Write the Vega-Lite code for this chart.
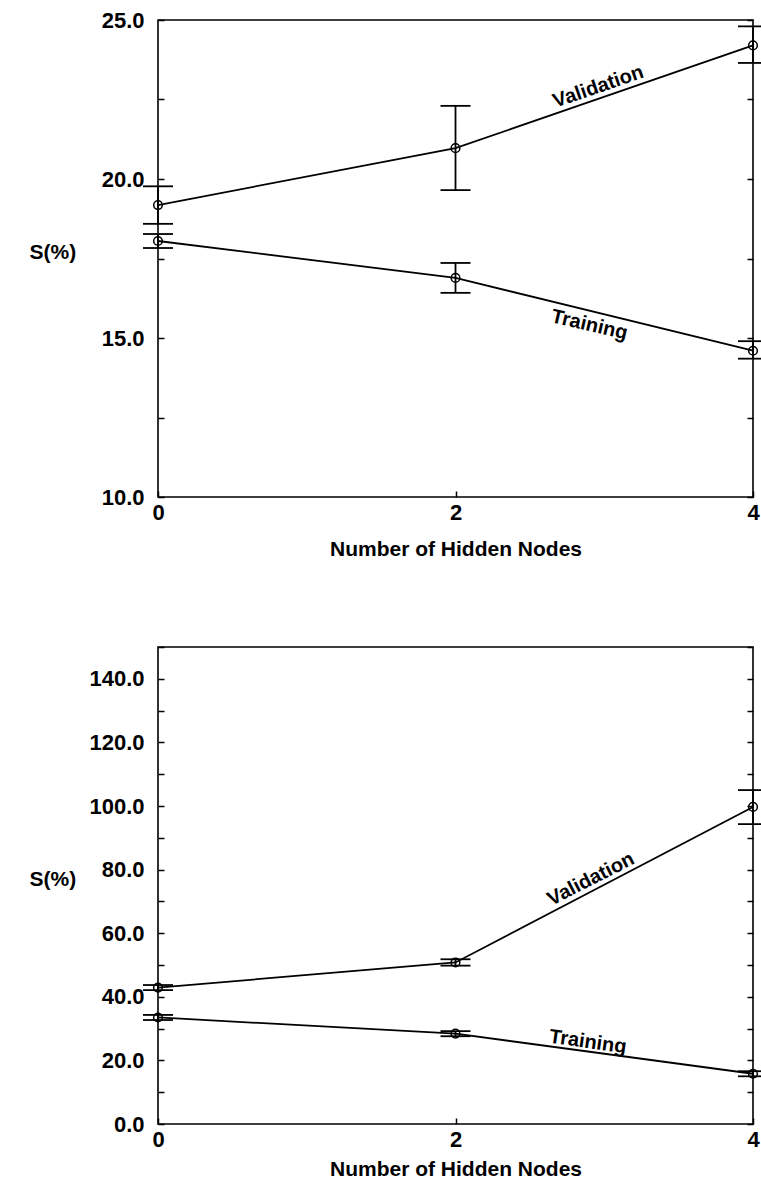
{
  "$schema": "https://vega.github.io/schema/vega-lite/v6.json",
  "padding": {"left": 28, "top": 8, "right": 0, "bottom": 0},
  "config": {
    "font": "Liberation Sans",
    "view": {"stroke": "black", "strokeWidth": 1.6},
    "axis": {
      "labelFont": "Liberation Sans", "labelFontWeight": "bold", "labelFontSize": 22, "labelColor": "black",
      "titleFont": "Liberation Sans", "titleFontWeight": "bold", "titleFontSize": 21, "titleColor": "black",
      "grid": false, "domain": false, "tickColor": "black", "tickSize": -6, "tickWidth": 1.5
    }
  },
  "datasets": {
    "pts": [
      {"panel": "A", "series": "Validation", "nodes": 0, "S": 19.18, "lo": 18.59, "hi": 19.77},
      {"panel": "A", "series": "Validation", "nodes": 2, "S": 20.97, "lo": 19.65, "hi": 22.3},
      {"panel": "A", "series": "Validation", "nodes": 4, "S": 24.2, "lo": 23.65, "hi": 24.8},
      {"panel": "A", "series": "Training", "nodes": 0, "S": 18.05, "lo": 17.83, "hi": 18.27},
      {"panel": "A", "series": "Training", "nodes": 2, "S": 16.89, "lo": 16.42, "hi": 17.36},
      {"panel": "A", "series": "Training", "nodes": 4, "S": 14.6, "lo": 14.35, "hi": 14.9},
      {"panel": "B", "series": "Validation", "nodes": 0, "S": 42.9, "lo": 42.1, "hi": 43.7},
      {"panel": "B", "series": "Validation", "nodes": 2, "S": 50.8, "lo": 49.8, "hi": 51.8},
      {"panel": "B", "series": "Validation", "nodes": 4, "S": 99.7, "lo": 94.3, "hi": 105.0},
      {"panel": "B", "series": "Training", "nodes": 0, "S": 33.5, "lo": 32.7, "hi": 34.3},
      {"panel": "B", "series": "Training", "nodes": 2, "S": 28.4, "lo": 27.6, "hi": 29.2},
      {"panel": "B", "series": "Training", "nodes": 4, "S": 15.8, "lo": 15.0, "hi": 16.6}
    ],
    "labels": [
      {"panel": "A", "label": "Validation", "nodes": 2.96, "S": 22.9},
      {"panel": "A", "label": "Training", "nodes": 2.9, "S": 15.41},
      {"panel": "B", "label": "Validation", "nodes": 2.91, "S": 77.0},
      {"panel": "B", "label": "Training", "nodes": 2.89, "S": 25.8}
    ]
  },
  "spacing": 150,
  "bounds": "flush",
  "vconcat": [
    {
      "width": 595, "height": 477,
      "encoding": {
        "x": {"field": "nodes", "type": "quantitative",
          "scale": {"domain": [0, 4], "nice": false, "zero": false},
          "axis": {"values": [0, 2, 4], "format": "d", "labelFlush": false, "title": "Number of Hidden Nodes", "labelPadding": 11, "titlePadding": 15}}
      },
      "layer": [
        {"data": {"name": "pts"}, "transform": [{"filter": "datum.panel == 'A'"}],
          "mark": {"type": "line", "color": "black", "strokeWidth": 1.8},
          "encoding": {
            "y": {"field": "S", "type": "quantitative", "scale": {"domain": [10, 25], "nice": false, "zero": false},
              "axis": {"orient": "left", "values": [10, 12.5, 15, 17.5, 20, 22.5, 25],
                "labelExpr": "datum.value % 5 === 0 ? format(datum.value, '.1f') : ''",
                "labelPadding": 20, "title": "S(%)", "titleAngle": 0, "titleAlign": "left", "titleBaseline": "middle", "titleX": -129, "titleY": 232}},
            "detail": {"field": "series"}}},
        {"data": {"name": "pts"}, "transform": [{"filter": "datum.panel == 'A'"}],
          "mark": {"type": "rule", "color": "black", "strokeWidth": 1.8},
          "encoding": {
            "y": {"field": "lo", "type": "quantitative", "scale": {"domain": [10, 25], "nice": false, "zero": false},
              "axis": {"orient": "right", "values": [10, 12.5, 15, 17.5, 20, 22.5, 25], "labels": false, "title": null}},
            "y2": {"field": "hi"}}},
        {"data": {"name": "pts"}, "transform": [{"filter": "datum.panel == 'A'"}],
          "mark": {"type": "point", "shape": "M-1,0L1,0", "size": 900, "filled": false, "color": "black", "strokeWidth": 1.8, "opacity": 1},
          "encoding": {"y": {"field": "lo", "type": "quantitative", "axis": null}}},
        {"data": {"name": "pts"}, "transform": [{"filter": "datum.panel == 'A'"}],
          "mark": {"type": "point", "shape": "M-1,0L1,0", "size": 900, "filled": false, "color": "black", "strokeWidth": 1.8, "opacity": 1},
          "encoding": {"y": {"field": "hi", "type": "quantitative", "axis": null}}},
        {"data": {"name": "pts"}, "transform": [{"filter": "datum.panel == 'A'"}],
          "mark": {"type": "point", "shape": "circle", "size": 75, "filled": false, "color": "black", "strokeWidth": 1.5, "opacity": 1},
          "encoding": {"y": {"field": "S", "type": "quantitative", "axis": null}}},
        {"data": {"name": "labels"}, "transform": [{"filter": "datum.panel == 'A' && datum.label == 'Validation'"}],
          "mark": {"type": "text", "font": "Liberation Sans", "fontWeight": "bold", "fontSize": 20, "angle": -19, "align": "center", "baseline": "middle", "color": "black"},
          "encoding": {"y": {"field": "S", "type": "quantitative", "axis": null}, "text": {"field": "label"}}},
        {"data": {"name": "labels"}, "transform": [{"filter": "datum.panel == 'A' && datum.label == 'Training'"}],
          "mark": {"type": "text", "font": "Liberation Sans", "fontWeight": "bold", "fontSize": 20, "angle": 13, "align": "center", "baseline": "middle", "color": "black"},
          "encoding": {"y": {"field": "S", "type": "quantitative", "axis": null}, "text": {"field": "label"}}}
      ],
      "resolve": {"axis": {"y": "independent"}}
    },
    {
      "width": 595, "height": 477,
      "encoding": {
        "x": {"field": "nodes", "type": "quantitative",
          "scale": {"domain": [0, 4], "nice": false, "zero": false},
          "axis": {"values": [0, 2, 4], "format": "d", "labelFlush": false, "title": "Number of Hidden Nodes", "labelPadding": 11, "titlePadding": 8}}
      },
      "layer": [
        {"data": {"name": "pts"}, "transform": [{"filter": "datum.panel == 'B'"}],
          "mark": {"type": "line", "color": "black", "strokeWidth": 1.8},
          "encoding": {
            "y": {"field": "S", "type": "quantitative", "scale": {"domain": [0, 150], "nice": false, "zero": false},
              "axis": {"orient": "left", "values": [0, 10, 20, 30, 40, 50, 60, 70, 80, 90, 100, 110, 120, 130, 140, 150],
                "labelExpr": "datum.value % 20 === 0 && datum.value < 150 ? format(datum.value, '.1f') : ''",
                "labelPadding": 20, "title": "S(%)", "titleAngle": 0, "titleAlign": "left", "titleBaseline": "middle", "titleX": -129, "titleY": 232}},
            "detail": {"field": "series"}}},
        {"data": {"name": "pts"}, "transform": [{"filter": "datum.panel == 'B'"}],
          "mark": {"type": "rule", "color": "black", "strokeWidth": 1.8},
          "encoding": {
            "y": {"field": "lo", "type": "quantitative", "scale": {"domain": [0, 150], "nice": false, "zero": false},
              "axis": {"orient": "right", "values": [0, 10, 20, 30, 40, 50, 60, 70, 80, 90, 100, 110, 120, 130, 140, 150], "labels": false, "title": null}},
            "y2": {"field": "hi"}}},
        {"data": {"name": "pts"}, "transform": [{"filter": "datum.panel == 'B'"}],
          "mark": {"type": "point", "shape": "M-1,0L1,0", "size": 900, "filled": false, "color": "black", "strokeWidth": 1.8, "opacity": 1},
          "encoding": {"y": {"field": "lo", "type": "quantitative", "axis": null}}},
        {"data": {"name": "pts"}, "transform": [{"filter": "datum.panel == 'B'"}],
          "mark": {"type": "point", "shape": "M-1,0L1,0", "size": 900, "filled": false, "color": "black", "strokeWidth": 1.8, "opacity": 1},
          "encoding": {"y": {"field": "hi", "type": "quantitative", "axis": null}}},
        {"data": {"name": "pts"}, "transform": [{"filter": "datum.panel == 'B'"}],
          "mark": {"type": "point", "shape": "circle", "size": 75, "filled": false, "color": "black", "strokeWidth": 1.5, "opacity": 1},
          "encoding": {"y": {"field": "S", "type": "quantitative", "axis": null}}},
        {"data": {"name": "labels"}, "transform": [{"filter": "datum.panel == 'B' && datum.label == 'Validation'"}],
          "mark": {"type": "text", "font": "Liberation Sans", "fontWeight": "bold", "fontSize": 20, "angle": -27, "align": "center", "baseline": "middle", "color": "black"},
          "encoding": {"y": {"field": "S", "type": "quantitative", "axis": null}, "text": {"field": "label"}}},
        {"data": {"name": "labels"}, "transform": [{"filter": "datum.panel == 'B' && datum.label == 'Training'"}],
          "mark": {"type": "text", "font": "Liberation Sans", "fontWeight": "bold", "fontSize": 20, "angle": 8, "align": "center", "baseline": "middle", "color": "black"},
          "encoding": {"y": {"field": "S", "type": "quantitative", "axis": null}, "text": {"field": "label"}}}
      ],
      "resolve": {"axis": {"y": "independent"}}
    }
  ]
}
